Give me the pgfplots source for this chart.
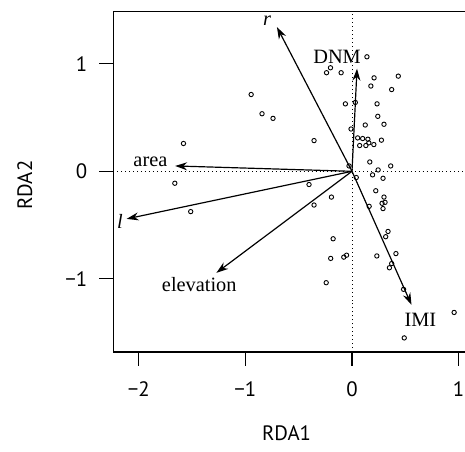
\documentclass[border=0pt]{standalone}
\usepackage{fontspec}
\setmainfont{Liberation Serif}
\newfontfamily\labfont{PT Sans}
\usepackage{pgfplots}
\pgfplotsset{compat=1.18}
\usetikzlibrary{arrows.meta}

% site scores (RDA1, RDA2)
\pgfplotstableread{
x y
0.140 1.066
-0.202 0.964
-0.239 0.918
-0.102 0.918
0.207 0.870
0.434 0.886
0.177 0.794
0.372 0.761
-0.062 0.628
0.031 0.641
0.235 0.628
0.242 0.512
0.300 0.438
0.124 0.431
-0.009 0.394
-0.356 0.286
0.053 0.311
0.100 0.305
0.149 0.299
0.158 0.265
0.072 0.240
0.130 0.240
0.205 0.249
0.276 0.290
0.167 0.087
0.363 0.050
-0.028 0.050
0.245 0.013
0.193 -0.033
0.040 -0.058
0.291 -0.065
-0.403 -0.123
0.223 -0.181
-0.193 -0.240
0.300 -0.240
-0.356 -0.314
0.310 -0.289
0.282 -0.298
0.161 -0.326
0.291 -0.347
-0.177 -0.628
0.338 -0.560
0.316 -0.609
0.412 -0.766
0.233 -0.788
-0.051 -0.781
-0.077 -0.799
-0.200 -0.811
0.372 -0.859
0.351 -0.898
0.484 -1.099
-0.242 -1.037
0.958 -1.314
0.490 -1.551
-0.946 0.715
-0.844 0.536
-0.741 0.493
-1.581 0.259
-1.662 -0.111
-1.513 -0.375
}\sites

\tikzset{arr/.style={black, line width=1.2pt, -{Stealth[length=12pt,width=8pt]}}}

\begin{document}
\begin{tikzpicture}
\begin{axis}[
  scale only axis,
  width=359pt, height=343.3pt,
  xmin=-2.24, xmax=1.1, ymin=-1.683, ymax=1.487,
  axis line style={line width=1.2pt},
  tick style={line width=1.2pt, black},
  tick align=outside, major tick length=14pt,
  xtick pos=left, ytick pos=left,
  xtick={-2,-1,0,1}, xticklabels={−2,−1,0,1},
  ytick={-1,0,1}, yticklabels={−1,0,1},
  ticklabel style={font=\labfont\fontsize{21}{24}\selectfont},
  xticklabel style={yshift=-12pt},
  yticklabel style={xshift=-8.6pt},
  clip=false,
]
\coordinate (bbsw) at (axis cs:-3.302,-2.607);
\coordinate (bbne) at (axis cs:1.06,1.595);

\addplot[dash pattern=on 1pt off 3pt, line width=1pt] coordinates {(-2.24,0) (1.1,0)};
\addplot[dash pattern=on 1pt off 3pt, line width=1pt] coordinates {(0,-1.683) (0,1.487)};

\addplot[only marks, mark=o, mark size=2.2pt, mark options={line width=0.9pt}] table {\sites};

\addplot[arr] coordinates {(0,0) (-0.704,1.343)};
\addplot[arr] coordinates {(0,0) (0.047,0.955)};
\addplot[arr] coordinates {(0,0) (-1.659,0.050)};
\addplot[arr] coordinates {(0,0) (-2.114,-0.443)};
\addplot[arr] coordinates {(0,0) (-1.272,-0.945)};
\addplot[arr] coordinates {(0,0) (0.558,-1.243)};

\begin{scope}[font=\fontsize{20.5}{24}\selectfont]
\node at (axis cs:-0.797,1.404) {\textit{r}};
\node at (axis cs:-0.140,1.062) {DNM};
\node at (axis cs:-1.891,0.087) {area};
\node at (axis cs:-2.177,-0.467) {\textit{l}};
\node at (axis cs:-1.433,-1.058) {elevation};
\node at (axis cs:0.642,-1.385) {IMI};
\end{scope}

\node[font=\labfont\fontsize{21}{24}\selectfont] at (axis cs:-0.614,-2.440) {RDA1};
\node[font=\labfont\fontsize{21}{24}\selectfont, rotate=90] at (axis cs:-3.070,-0.129) {RDA2};
\end{axis}
\pgfresetboundingbox
\path[use as bounding box] (bbsw) rectangle (bbne);
\end{tikzpicture}
\end{document}
